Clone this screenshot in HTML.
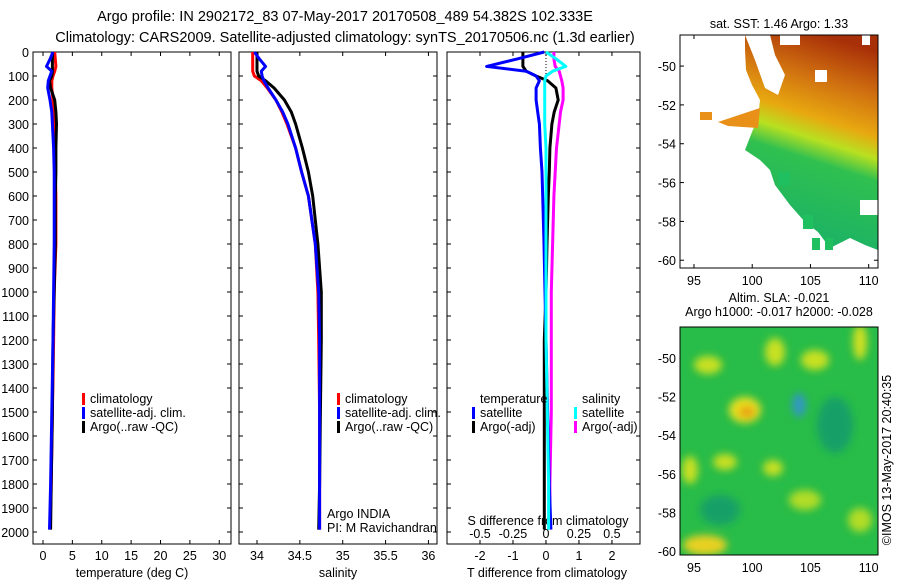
<!DOCTYPE html>
<html><head><meta charset="utf-8"><style>
body{margin:0;background:#fff}
svg{display:block;font-family:"Liberation Sans",sans-serif;font-size:12.5px}
</style></head><body>
<svg id="c" width="900" height="580" viewBox="0 0 900 580">
<defs>
<linearGradient id="sstg" x1="0.6" y1="0" x2="0.4" y2="1">
<stop offset="0" stop-color="#a83008"/><stop offset="0.2" stop-color="#d07010"/><stop offset="0.38" stop-color="#e8a810"/><stop offset="0.48" stop-color="#b8e020"/><stop offset="0.58" stop-color="#30c050"/><stop offset="1" stop-color="#18b068"/>
</linearGradient>
<filter id="bl"><feGaussianBlur stdDeviation="4"/></filter>
<clipPath id="m2c"><rect x="680" y="327" width="198" height="228"/></clipPath>
</defs>
<text x="345" y="21" text-anchor="middle" style="font-size:14.5px">Argo profile: IN 2902172_83 07-May-2017 20170508_489 54.382S 102.333E</text>
<text x="345" y="42" text-anchor="middle" style="font-size:14.5px">Climatology: CARS2009. Satellite-adjusted climatology: synTS_20170506.nc (1.3d earlier)</text>
<g id="plots"></g>
<g>
<polygon points="745,35 878,35 878,250 865,245 850,238 830,248 818,232 805,222 790,205 775,185 770,170 760,160 745,150 752,132 758,118 760,100 752,85 746,70 745,50" fill="url(#sstg)"/>
<polygon points="718,122 760,108 758,128 728,126" fill="#e89018"/>
<polygon points="700,112 712,112 712,120 700,120" fill="#e89018"/>
<rect x="778" y="172" width="12" height="14" fill="#20c060"/>
<rect x="803" y="215" width="10" height="14" fill="#20c060"/>
<rect x="812" y="238" width="8" height="12" fill="#20c060"/>
<rect x="825" y="238" width="8" height="12" fill="#20c060"/>
<polygon points="745,35 770,35 775,55 785,75 778,95 765,88 755,60" fill="#fff"/>
<rect x="780" y="35" width="20" height="10" fill="#fff"/>
<rect x="815" y="70" width="12" height="12" fill="#fff"/>
<rect x="862" y="35" width="8" height="10" fill="#fff"/>
<rect x="860" y="200" width="18" height="15" fill="#fff"/>
<rect x="680" y="35" width="198" height="233" fill="none" stroke="#000"/>
</g>
<text x="779" y="28" text-anchor="middle">sat. SST: 1.46 Argo: 1.33</text>
<text x="779" y="302" text-anchor="middle">Altim. SLA: -0.021</text>
<text x="779" y="316" text-anchor="middle">Argo h1000: -0.017 h2000: -0.028</text>
<g>
<rect x="680" y="327" width="198" height="228" fill="#28bc48"/>
<g clip-path="url(#m2c)" filter="url(#bl)">
<ellipse cx="745" cy="410" rx="16" ry="13" fill="#e8e020"/>
<ellipse cx="747" cy="412" rx="8" ry="6" fill="#e8a010"/>
<ellipse cx="708" cy="365" rx="14" ry="9" fill="#c8e020"/>
<ellipse cx="775" cy="352" rx="10" ry="14" fill="#c8e020"/>
<ellipse cx="815" cy="360" rx="14" ry="10" fill="#c8e020"/>
<ellipse cx="860" cy="342" rx="7" ry="18" fill="#d0e020"/>
<ellipse cx="799" cy="405" rx="7" ry="12" fill="#3098c0"/>
<ellipse cx="725" cy="462" rx="12" ry="8" fill="#c8e020"/>
<ellipse cx="773" cy="468" rx="10" ry="8" fill="#c8e020"/>
<ellipse cx="705" cy="545" rx="22" ry="10" fill="#e8d020"/>
<ellipse cx="835" cy="425" rx="18" ry="28" fill="#18a068"/>
<ellipse cx="720" cy="510" rx="20" ry="15" fill="#18a068"/>
<ellipse cx="805" cy="500" rx="16" ry="10" fill="#b0dc28"/>
<ellipse cx="690" cy="470" rx="8" ry="14" fill="#c8e020"/>
<ellipse cx="860" cy="520" rx="12" ry="12" fill="#b0dc28"/>
</g>
<rect x="680" y="327" width="198" height="228" fill="none" stroke="#000"/>
</g>
<text transform="translate(891,460) rotate(-90)" text-anchor="middle">©IMOS 13-May-2017 20:40:35</text>
<text x="327" y="518">Argo INDIA</text>
<text x="327" y="532">PI: M Ravichandran</text>
</svg>
<script>
// depth grid (dbar) shared by profiles
const depths = [0,30,60,80,100,120,150,200,250,300,400,500,600,800,1000,1200,1500,1800,1990];
// temperature (deg C)
const tClim = [2.0,2.1,2.2,2.0,1.7,1.5,1.5,1.7,1.9,2.0,2.1,2.1,2.2,2.2,1.9,1.8,1.6,1.4,1.2];
const tSat  = [1.7,1.2,0.6,1.5,1.2,0.9,0.8,1.2,1.5,1.6,1.8,1.9,1.9,1.9,1.8,1.7,1.5,1.3,1.1];
const tArgo = [1.6,1.6,1.6,1.6,1.5,1.1,1.3,2.0,2.2,2.3,2.2,2.2,2.1,2.1,1.9,1.7,1.6,1.4,1.3];
// salinity
const sClim = [33.95,33.95,33.95,33.95,33.97,34.05,34.12,34.22,34.29,34.35,34.45,34.52,34.6,34.68,34.71,34.72,34.73,34.73,34.73];
const sSat  = [33.97,34.03,34.1,34.05,34.06,34.08,34.13,34.22,34.3,34.36,34.45,34.52,34.6,34.68,34.72,34.73,34.73,34.73,34.73];
const sArgo = [34.0,34.0,34.0,34.0,34.02,34.1,34.2,34.32,34.4,34.45,34.53,34.6,34.65,34.71,34.75,34.75,34.74,34.73,34.72];
// differences from climatology
const dTSat  = [-0.05,-0.9,-1.8,-0.6,-0.3,-0.2,-0.3,-0.3,-0.25,-0.2,-0.17,-0.12,-0.1,-0.06,-0.03,0.0,0.05,0.1,0.15];
const dTArgo = [-0.7,-0.7,-0.7,-0.6,-0.3,0.05,0.3,0.37,0.25,0.18,0.12,0.1,0.07,0.03,0.0,-0.05,-0.05,-0.05,-0.05];
const dSSat  = [0.0,0.08,0.15,0.05,0.0,-0.01,-0.01,-0.01,-0.01,-0.01,0.0,0.0,0.0,0.0,0.0,0.0,0.01,0.02,0.02];
const dSArgo = [0.06,0.06,0.07,0.1,0.11,0.12,0.13,0.13,0.11,0.1,0.08,0.07,0.06,0.05,0.04,0.04,0.04,0.03,0.03];
const depthTicks = [0,100,200,300,400,500,600,700,800,900,1000,1100,1200,1300,1400,1500,1600,1700,1800,1900,2000];
const tTicks = [0,5,10,15,20,25,30];
const sTicks = [34,34.5,35,35.5,36];
const dtTicks = [-2,-1,0,1,2];
const dsTicks = [-0.5,-0.25,0,0.25,0.5];

const NS='http://www.w3.org/2000/svg';
const g=document.getElementById('plots');
const yTop=52, yBot=544, dMin=0, dMax=2050;
const yS=d=>yTop+(d-dMin)/(dMax-dMin)*(yBot-yTop);
function mk(tag,attrs,parent){const e=document.createElementNS(NS,tag);for(const k in attrs)e.setAttribute(k,attrs[k]);(parent||g).appendChild(e);return e;}
function txt(x,y,s,anchor){const e=mk('text',{x:x,y:y,'text-anchor':anchor||'middle'});e.textContent=s;return e;}

const panels=[
 {x0:33,x1:231,vmin:-1.7,vmax:32,name:'temperature-panel'},
 {x0:239,x1:437,vmin:33.79,vmax:36.1,name:'salinity-panel'},
 {x0:447,x1:640,vmin:-3.0,vmax:2.85,name:'difference-panel'}
];
panels.forEach(p=>{p.xs=v=>p.x0+(v-p.vmin)/(p.vmax-p.vmin)*(p.x1-p.x0);});
const sdxs=v=>panels[2].xs(v*4);

panels.forEach((p,i)=>{
 const r=mk('rect',{x:p.x0,y:yTop,width:p.x1-p.x0,height:yBot-yTop,fill:'none',stroke:'#000'});
 
 
 depthTicks.forEach(d=>{
  const y=yS(d);
  mk('line',{x1:p.x0,x2:p.x0+4,y1:y,y2:y,stroke:'#000'});
  mk('line',{x1:p.x1,x2:p.x1-4,y1:y,y2:y,stroke:'#000'});
  if(i===0){const t=txt(29,y+5,String(d),'end');
   
   }
 });
});
function xticks(p,ticks,fmt,xs){
 ticks.forEach(v=>{const x=xs(v);
  mk('line',{x1:x,x2:x,y1:yBot,y2:yBot-4,stroke:'#000'});
  mk('line',{x1:x,x2:x,y1:yTop,y2:yTop+4,stroke:'#000'});
  const t=txt(x,yBot+16,fmt(v));
  
  
 });
}
xticks(panels[0],tTicks,String,panels[0].xs);
xticks(panels[1],sTicks,String,panels[1].xs);
xticks(panels[2],dtTicks,String,panels[2].xs);
dsTicks.forEach(v=>{const x=sdxs(v);
 mk('line',{x1:x,x2:x,y1:yBot,y2:yBot-4,stroke:'#000'});
 const t=txt(x,yBot-6,String(v));
 
 
});
[[132,'temperature (deg C)','x-axis-title-temperature'],[338,'salinity','x-axis-title-salinity'],[547,'T difference from climatology','x-axis-title-t-diff']].forEach(a=>{
 const t=txt(a[0],577,a[1]);
 
 
});
const st=txt(548,525,'S difference from climatology');



const zl=mk('line',{x1:panels[2].xs(0),x2:panels[2].xs(0),y1:yTop,y2:yS(110),stroke:'#000','stroke-dasharray':'1,2'});



function series(vals,xs,color,name){
 const pts=vals.map((v,k)=>xs(v).toFixed(1)+','+yS(depths[k]).toFixed(1)).join(' ');
 const l=mk('polyline',{points:pts,fill:'none',stroke:color,'stroke-width':3,'stroke-linejoin':'round'});
 
 
}
series(tClim,panels[0].xs,'#f00','temp-climatology-line');
series(tArgo,panels[0].xs,'#000','temp-argo-line');
series(tSat,panels[0].xs,'#00f','temp-satellite-line');
series(sClim,panels[1].xs,'#f00','sal-climatology-line');
series(sArgo,panels[1].xs,'#000','sal-argo-line');
series(sSat,panels[1].xs,'#00f','sal-satellite-line');
series(dSArgo,sdxs,'#f0f','s-diff-argo-line');
series(dTArgo,panels[2].xs,'#000','t-diff-argo-line');
series(dTSat,panels[2].xs,'#00f','t-diff-satellite-line');
series(dSSat,sdxs,'#0ff','s-diff-satellite-line');

function legend(x,y,items,name){
 items.forEach((it,k)=>{
  const yy=y+k*14;
  if(it[1]){const m=mk('rect',{x:x,y:yy-10,width:3,height:12,fill:it[1]});
   
   }
  const t=txt(x+8,yy,it[0],'start');
  
  
 });
}
legend(82,403,[['climatology','#f00'],['satellite-adj. clim.','#00f'],['Argo(..raw -QC)','#000']],'temp-legend');
legend(337,403,[['climatology','#f00'],['satellite-adj. clim.','#00f'],['Argo(..raw -QC)','#000']],'sal-legend');
legend(472,403,[['temperature',null],['satellite','#00f'],['Argo(-adj)','#000']],'tdiff-legend');
legend(574,403,[['salinity',null],['satellite','#0ff'],['Argo(-adj)','#f0f']],'sdiff-legend');

const mapLon=[95,100,105,110], mapLat=[-50,-52,-54,-56,-58,-60];
[[35,268,-48.4,-60.4,'sst'],[327,555,-48.4,-60.2,'sla']].forEach(m=>{
 const ly=v=>m[0]+(v-m[2])/(m[3]-m[2])*(m[1]-m[0]);
 const lx=v=>680+(v-93.8)/(110.8-93.8)*198;
 mapLat.forEach(v=>{const y=ly(v);
  mk('line',{x1:680,x2:684,y1:y,y2:y,stroke:'#000'});
  mk('line',{x1:878,x2:874,y1:y,y2:y,stroke:'#000'});
  const t=txt(676,y+5,String(v),'end');
  
  });
 mapLon.forEach(v=>{const x=lx(v);
  mk('line',{x1:x,x2:x,y1:m[1],y2:m[1]-4,stroke:'#000'});
  mk('line',{x1:x,x2:x,y1:m[0],y2:m[0]+4,stroke:'#000'});
  const t=txt(x,m[1]+17,String(v));
  
  });
});
</script>
</body></html>
